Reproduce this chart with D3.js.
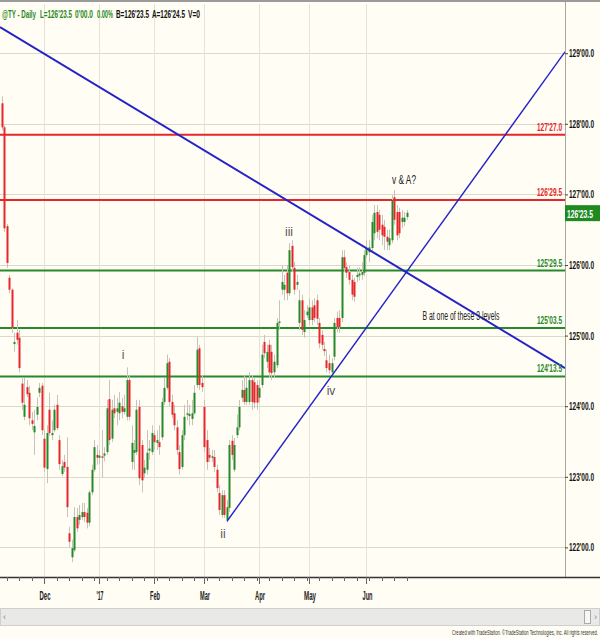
<!DOCTYPE html>
<html><head><meta charset="utf-8">
<script src="https://cdn.jsdelivr.net/npm/d3@7/dist/d3.min.js"></script>
<style>
body{margin:0;background:#fffdf4;}
svg{display:block;}
text{font-family:"Liberation Sans",Arial,sans-serif;}
</style>
</head><body>
<svg id="chart" width="600" height="638"></svg>
<script>
// ---- data (prices in points; 32nds shown in labels) ----
const open = [128.29,127.95,126.55,125.82,125.65,124.88,125.04,124.97,124.32,123.85,
124.27,124.19,123.80,123.63,123.88,124.19,124.29,123.54,123.11,123.95,
123.59,123.66,124.02,123.52,123.04,123.21,123.14,122.20,121.86,121.96,
122.43,122.39,122.43,122.50,122.49,122.35,122.78,123.10,123.31,123.27,
123.29,123.30,123.35,124.10,123.54,123.97,123.92,123.90,124.00,123.92,
123.85,124.37,123.21,123.34,123.35,123.99,123.45,123.05,123.10,123.37,
123.35,123.59,123.48,123.49,123.56,124.06,124.26,124.63,124.06,123.90,
123.70,123.35,123.14,123.59,123.88,123.86,123.82,123.90,124.30,124.82,
124.33,123.99,123.52,123.31,123.28,123.28,123.10,122.77,122.46,122.74,
122.39,122.56,123.51,123.10,123.59,123.70,124.12,124.23,124.06,124.06,
124.37,124.34,124.30,124.12,124.30,124.91,124.63,124.87,124.77,124.48,
124.58,125.18,125.65,125.65,125.89,125.60,126.27,125.96,125.72,125.18,
125.50,125.05,125.29,125.22,125.40,125.43,125.50,125.18,125.01,124.81,
124.65,124.61,124.48,124.70,125.25,125.25,125.25,126.11,125.97,125.90,
125.79,125.76,125.83,125.85,125.86,125.89,126.14,126.18,126.24,126.45,
126.75,126.71,126.57,126.54,126.40,126.28,126.35,126.96,126.75,126.75,
126.61,126.61,126.68];
const high = [128.39,127.98,126.58,125.86,125.67,125.04,125.22,125.08,124.41,124.40,
124.37,124.29,123.92,123.95,124.12,124.33,124.33,123.66,123.73,124.19,
123.80,124.02,124.16,123.59,123.24,123.31,123.56,122.29,122.11,122.57,
122.56,122.60,122.63,122.63,122.56,122.81,123.17,123.52,123.45,123.38,
123.66,123.42,124.09,124.37,124.09,124.16,124.12,124.20,124.12,124.16,
124.55,124.44,123.73,123.52,124.09,124.09,123.52,123.24,123.66,123.52,
123.73,123.66,123.66,123.73,124.12,124.40,124.73,124.68,124.16,124.02,
123.80,123.45,123.66,124.02,124.09,124.02,124.09,124.30,124.98,124.87,
124.44,124.09,123.66,123.41,123.38,123.38,123.17,122.88,122.81,122.81,
122.67,123.52,123.59,123.55,123.88,124.09,124.37,124.44,124.40,124.48,
124.44,124.40,124.37,124.37,124.87,125.01,124.87,124.94,124.87,124.73,
125.25,125.50,126.00,125.86,126.00,126.31,126.35,126.04,125.86,125.65,
125.58,125.36,125.43,125.53,125.50,125.53,125.58,125.25,125.08,124.91,
124.80,124.73,124.68,125.25,125.34,125.36,126.21,126.21,126.04,125.99,
125.86,125.82,125.96,125.97,126.04,126.21,126.35,126.35,126.71,126.85,
126.85,126.78,126.71,126.64,126.50,126.50,126.99,127.06,126.85,126.81,
126.78,126.75,126.78];
const low = [127.91,126.47,125.96,125.60,125.04,124.77,124.87,124.48,123.95,123.80,
124.13,123.73,123.66,123.31,123.80,124.13,123.59,123.07,122.91,123.58,
123.52,123.63,123.66,123.10,123.01,123.07,122.43,122.00,121.79,121.94,
122.22,122.32,122.39,122.36,122.27,122.30,122.74,123.07,123.17,123.18,
122.99,123.22,123.31,123.45,123.49,123.83,123.73,123.80,123.83,123.88,
123.80,123.80,123.10,123.10,123.31,122.88,122.78,122.98,123.03,123.24,
123.31,123.38,123.38,123.31,123.52,124.02,124.23,124.00,123.83,123.66,
123.31,123.03,123.10,123.52,123.80,123.73,123.73,123.88,124.26,124.23,
124.20,123.35,123.10,123.21,123.21,123.07,122.78,122.46,122.42,122.42,
122.36,122.50,123.24,123.07,123.55,123.66,124.06,124.02,124.02,124.02,
123.95,123.97,123.95,124.06,124.26,124.68,124.54,124.40,124.37,124.40,
124.54,125.08,125.58,125.50,125.50,125.56,125.90,125.58,125.65,125.08,
125.01,124.97,125.25,125.15,125.15,125.19,125.15,124.82,124.80,124.71,
124.48,124.46,124.43,124.65,125.05,125.04,125.19,125.90,125.82,125.72,
125.50,125.48,125.76,125.78,125.79,125.84,126.10,126.04,126.18,126.35,
126.38,126.35,126.28,126.21,126.21,126.21,126.31,126.57,126.35,126.38,
126.52,126.55,126.64];
const close = [127.95,126.52,126.03,125.65,125.11,124.91,124.94,124.54,124.05,124.02,
124.17,123.83,123.75,123.72,123.99,124.26,123.66,123.13,123.62,123.62,
123.62,123.95,123.69,123.18,123.15,123.13,122.57,122.08,121.99,122.43,
122.27,122.46,122.50,122.43,122.35,122.78,123.10,123.42,123.27,123.30,
123.27,123.33,123.97,123.52,123.95,123.90,123.97,124.05,123.92,123.97,
124.37,123.85,123.48,123.38,123.95,122.98,122.95,123.13,123.34,123.40,
123.62,123.49,123.52,123.42,124.06,124.26,124.61,124.06,123.88,123.73,
123.38,123.11,123.59,123.85,123.90,123.89,123.90,124.19,124.80,124.30,
124.27,123.42,123.21,123.27,123.29,123.14,122.84,122.53,122.74,122.46,
122.57,123.45,123.31,123.45,123.70,123.99,124.23,124.06,124.26,124.37,
124.06,124.05,124.05,124.26,124.73,124.75,124.77,124.48,124.47,124.63,
125.18,125.20,125.76,125.72,125.60,126.21,125.97,125.65,125.76,125.50,
125.08,125.22,125.34,125.40,125.22,125.25,125.24,124.89,124.87,124.78,
124.54,124.51,124.61,125.18,125.12,125.12,126.11,125.96,125.89,125.79,
125.58,125.55,125.86,125.88,125.90,126.14,126.24,126.25,126.61,126.74,
126.47,126.50,126.42,126.40,126.33,126.38,126.92,126.64,126.42,126.45,
126.67,126.67,126.74];

const monthLabels = ["Dec","'17","Feb","Mar","Apr","May","Jun"];
const monthBars   = [17, 39, 61, 81, 103, 123, 146];
const yTickValues = [122,123,124,125,126,127,128,129];
const yTickLabels = ["122'00.0","123'00.0","124'00.0","125'00.0","126'00.0","127'00.0","128'00.0","129'00.0"];

const levelValues = [127.84375, 126.921875, 125.921875, 125.109375, 124.421875];
const levelLabels = ["127'27.0","126'29.5","125'29.5","125'03.5","124'13.5"];
const levelKinds  = ["res","res","sup","sup","sup"];

// trend lines: [bar index, price]
const trendDown = [[-0.6,129.37],[225.4,124.54]];
const trendUp   = [[90.2,122.37],[225.4,129.02]];

const waveLabels = ["i","ii","iii","iv","v & A?","B at one of these 3 levels"];
const waveBars   = [48.6, 88.6, 115, 131.8, 161, 183.8];
const wavePrices = [124.73, 122.19, 126.47, 124.22, 127.20, 125.28];

const lastPrice = 126.734375, lastLabel = "126'23.5";
const titleParts = ["@TY - Daily","L=126'23.5","0'00.0","0.00%","B=126'23.5","A=126'24.5","V=0"];

// ---- layout ----
const W=600,H=638, plotR=565, plotT=4, plotB=577;
const svg=d3.select("#chart");
const x=d3.scaleLinear().domain([0,225]).range([1.5,564]);
const y=d3.scaleLinear().domain([122,129]).range([547.4,53.2]);
const GREEN="#26892a", RED="#e5262a", BLUE="#2323c8";
// condensed look: squeeze each text to the reference's width
const fit=(sel,w)=>sel.attr("textLength",w).attr("lengthAdjust","spacingAndGlyphs");

svg.append("rect").attr("width",W).attr("height",H).attr("fill","#fffdf4");
svg.append("defs").append("clipPath").attr("id","clip")
  .append("rect").attr("x",0).attr("y",plotT).attr("width",plotR).attr("height",plotB-plotT);

const g=svg.append("g").attr("clip-path","url(#clip)");
g.selectAll(".hg").data(yTickValues).join("line")
  .attr("x1",0).attr("x2",plotR).attr("y1",d=>Math.round(y(d))+0.5).attr("y2",d=>Math.round(y(d))+0.5)
  .attr("stroke","#d9d9cc").attr("stroke-width",1);
g.selectAll(".vg").data(monthBars).join("line")
  .attr("x1",d=>Math.round(x(d))+0.5).attr("x2",d=>Math.round(x(d))+0.5).attr("y1",plotT).attr("y2",plotB)
  .attr("stroke","#e6e4d6").attr("stroke-width",1);

const lvlColor=k=>k==="res"?RED:GREEN;
g.selectAll(".lv").data(levelValues).join("line")
  .attr("x1",0).attr("x2",plotR).attr("y1",d=>y(d)).attr("y2",d=>y(d))
  .attr("stroke",(d,i)=>lvlColor(levelKinds[i])).attr("stroke-width",2);

const idx=d3.range(open.length);
g.selectAll(".wick").data(idx).join("line")
  .attr("x1",i=>Math.round(x(i))+0.5).attr("x2",i=>Math.round(x(i))+0.5)
  .attr("y1",i=>y(high[i])).attr("y2",i=>y(low[i]))
  .attr("stroke","#c7c2ba").attr("stroke-width",1);
g.selectAll(".body").data(idx).join("rect")
  .attr("x",i=>Math.round(x(i))-0.5).attr("width",2)
  .attr("y",i=>y(Math.max(open[i],close[i])))
  .attr("height",i=>Math.max(1.5,Math.abs(y(open[i])-y(close[i]))))
  .attr("fill",i=>close[i]>=open[i]?GREEN:RED);

const ln=d3.line().x(d=>x(d[0])).y(d=>y(d[1]));
g.append("path").attr("d",ln(trendDown)).attr("stroke",BLUE).attr("stroke-width",2).attr("fill","none");
g.append("path").attr("d",ln(trendUp)).attr("stroke",BLUE).attr("stroke-width",1.4).attr("fill","none");

// level labels
svg.selectAll(".ll").data(levelValues).join("text")
  .attr("x",562).attr("y",d=>y(d)-4).attr("text-anchor","end")
  .attr("font-size",11).attr("font-weight","bold")
  .attr("fill",(d,i)=>lvlColor(levelKinds[i])).text((d,i)=>levelLabels[i])
  .call(fit,25);

// wave labels (roman numerals unsqueezed; notes squeezed)
const waveW=[0,0,0,0,24,77];
svg.selectAll(".wl").data(waveLabels).join("text")
  .attr("x",(d,i)=>x(waveBars[i])).attr("y",(d,i)=>y(wavePrices[i])+4)
  .attr("text-anchor","middle")
  .attr("font-size",12).attr("fill",(d,i)=>i<4?"#555":"#222").text(d=>d)
  .each(function(d,i){ if(waveW[i]) d3.select(this).call(fit,waveW[i]); });

// right axis
svg.append("line").attr("x1",plotR+0.5).attr("x2",plotR+0.5).attr("y1",0).attr("y2",plotB).attr("stroke","#a8a8a0");
const yAxis=d3.axisRight(y).tickValues(yTickValues).tickSize(3).tickPadding(1)
  .tickFormat((d,i)=>yTickLabels[i]);
const ya=svg.append("g").attr("transform",`translate(${plotR},0)`).call(yAxis);
ya.select(".domain").remove();
ya.selectAll("text").attr("font-size",11).attr("font-weight","bold").attr("fill","#111")
  .style("font-family",'"Liberation Sans",Arial,sans-serif').call(fit,25);
ya.selectAll("line").attr("stroke","#444");

// last price box
svg.append("rect").attr("x",565).attr("y",y(lastPrice)-8).attr("width",35).attr("height",16).attr("fill","#1f8a22");
svg.append("text").attr("x",567).attr("y",y(lastPrice)+4.5)
  .attr("font-size",11).attr("font-weight","bold").attr("fill","#fff").text(lastLabel).call(fit,26);

// bottom axis
svg.append("line").attr("x1",0).attr("x2",W).attr("y1",plotB+0.5).attr("y2",plotB+0.5).attr("stroke","#333").attr("stroke-width",1.5);
const weekTicks=d3.range(2,open.length,5);
svg.selectAll(".wt").data(weekTicks).join("line")
  .attr("x1",i=>Math.round(x(i))+0.5).attr("x2",i=>Math.round(x(i))+0.5).attr("y1",plotB).attr("y2",plotB+4)
  .attr("stroke","#666");
svg.selectAll(".mt").data(monthBars).join("line")
  .attr("x1",i=>Math.round(x(i))+0.5).attr("x2",i=>Math.round(x(i))+0.5).attr("y1",plotB).attr("y2",plotB+7)
  .attr("stroke","#666");
const monthW=[11,7,10,10,10,12,10];
svg.selectAll(".ml").data(monthBars).join("text")
  .attr("x",i=>x(i)+1).attr("y",600).attr("text-anchor","middle")
  .attr("font-size",13).attr("font-weight","bold").attr("fill","#222").text((d,i)=>monthLabels[i])
  .each(function(d,i){d3.select(this).call(fit,monthW[i]);});

// scrollbar + footer
svg.append("rect").attr("x",0.5).attr("y",608.5).attr("width",599).attr("height",17).attr("fill","#e9e9e7").attr("stroke","#cfcfcf");
svg.append("rect").attr("x",584.5).attr("y",610.5).attr("width",6).attr("height",13).attr("fill","#f7f7f7").attr("stroke","#aaa");
svg.append("text").attr("x",3).attr("y",620).attr("font-size",9).attr("fill","#888").text("‹");
svg.append("text").attr("x",594).attr("y",620).attr("font-size",9).attr("fill","#888").text("›");
svg.append("text").attr("x",598).attr("y",635).attr("text-anchor","end").attr("font-size",7.5).attr("fill","#333")
  .text("Created with TradeStation. ©TradeStation Technologies, Inc. All rights reserved.").call(fit,146);

// top border + title
svg.append("line").attr("x1",0).attr("x2",W).attr("y1",1).attr("y2",1).attr("stroke","#9a9a9a").attr("stroke-width",2);
const titleX=[2,40,75,97,116,152,188];
const titleW=[34,32,18,16,33,33,12];
svg.selectAll(".tt").data(titleParts).join("text")
  .attr("x",(d,i)=>titleX[i]).attr("y",18).attr("font-size",11).attr("font-weight","bold")
  .attr("fill",(d,i)=>i<4?"#1f8a22":"#111").text(d=>d)
  .each(function(d,i){d3.select(this).call(fit,titleW[i]);});
</script>
</body></html>
